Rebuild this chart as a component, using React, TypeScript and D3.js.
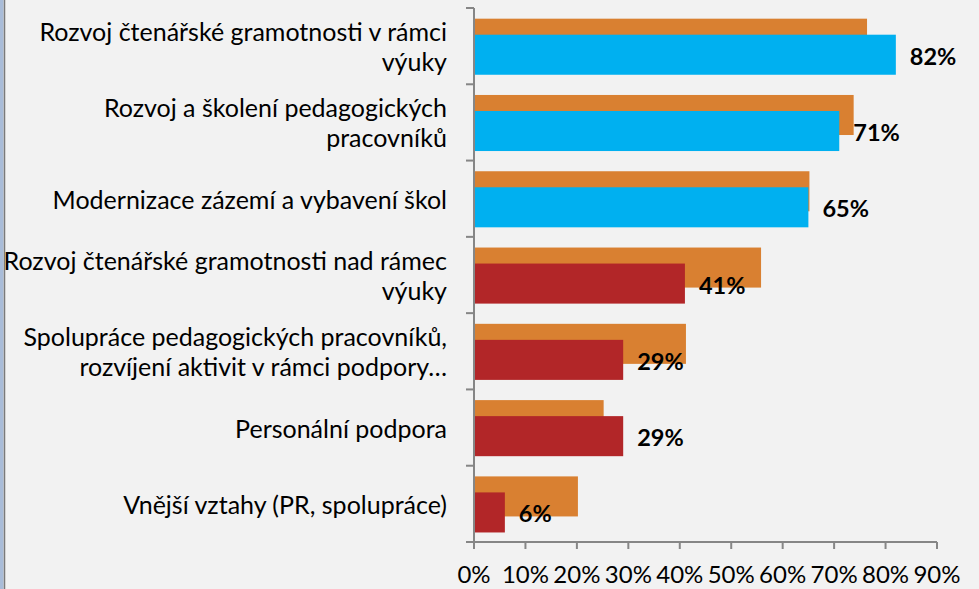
import * as React from 'react';
import * as d3 from 'd3';

// categories, top to bottom (each entry = wrapped lines of the label)
const categories: string[][] = [
  ['Rozvoj čtenářské gramotnosti v rámci', 'výuky'],
  ['Rozvoj a školení pedagogických', 'pracovníků'],
  ['Modernizace zázemí a vybavení škol'],
  ['Rozvoj čtenářské gramotnosti nad rámec', 'výuky'],
  ['Spolupráce pedagogických pracovníků,', 'rozvíjení aktivit v rámci podpory…'],
  ['Personální podpora'],
  ['Vnější vztahy (PR, spolupráce)'],
];

// background (orange) series and main series, in %
const previous: number[] = [76.4, 73.8, 65.2, 55.8, 41.2, 25.2, 20.2];
const current: number[] = [82, 71, 65, 41, 29, 29, 6];
const xTicks: number[] = [0, 10, 20, 30, 40, 50, 60, 70, 80, 90];

const width = 979;
const height = 589;
const marginLeft = 474;
const marginRight = 42;
const marginTop = 8;
const marginBottom = 47;

const ORANGE = '#d98031';
const BLUE = '#00b0f0';
const RED = '#b22628';
const AXIS = '#868686';
const FONT = 'Lato, "Open Sans", sans-serif';

const App: React.FC = () => {
  const x = d3.scaleLinear().domain([0, 90]).range([marginLeft, width - marginRight]);
  const y = d3
    .scaleBand<number>()
    .domain(d3.range(categories.length))
    .range([marginTop, height - marginBottom])
    .padding(0);
  const bw = y.bandwidth();
  const barH = bw * 0.525;
  const axisY = height - marginBottom;

  return (
    <svg width={width} height={height} style={{ position: 'absolute', left: 0, top: 0 }}>
      <rect width={width} height={height} fill="#f2f2f2" />
      <rect x={0} y={0} width={3.5} height={height} fill="#a9bcd8" />
      <line x1={4.5} x2={4.5} y1={0} y2={height} stroke="#7a7a7a" strokeWidth={1.5} />

      {/* bars */}
      {categories.map((_, i) => (
        <g key={i}>
          <rect
            x={x(0)}
            y={y(i)! + bw * 0.14}
            width={x(previous[i]) - x(0)}
            height={barH}
            fill={ORANGE}
          />
          <rect
            x={x(0)}
            y={y(i)! + bw * 0.35}
            width={x(current[i]) - x(0)}
            height={barH}
            fill={i < 3 ? BLUE : RED}
          />
          <text
            x={x(current[i]) + 14}
            y={y(i)! + bw * 0.35 + barH / 2 + 1}
            dominantBaseline="central"
            fontFamily={FONT}
            fontWeight="bold"
            fontSize={23.5}
            fill="#000"
          >
            {current[i]}%
          </text>
        </g>
      ))}

      {/* y axis */}
      <line x1={marginLeft} x2={marginLeft} y1={marginTop} y2={axisY} stroke={AXIS} strokeWidth={2} />
      {d3.range(categories.length).map((i) => (
        <line key={i} x1={marginLeft - 8} x2={marginLeft} y1={y(i)!} y2={y(i)!} stroke={AXIS} strokeWidth={2} />
      ))}
      {categories.map((lines, i) => {
        const cy = y(i)! + bw / 2;
        const lh = 30;
        return (
          <text
            key={i}
            textAnchor="end"
            fontFamily={FONT}
            fontSize={25}
            fill="#000"
          >
            {lines.map((ln, j) => (
              <tspan
                key={j}
                x={447}
                y={cy + (j - (lines.length - 1) / 2) * lh}
                dominantBaseline="central"
              >
                {ln}
              </tspan>
            ))}
          </text>
        );
      })}

      {/* x axis */}
      <line x1={marginLeft - 8} x2={x(90)} y1={axisY} y2={axisY} stroke={AXIS} strokeWidth={2} />
      {xTicks.map((t) => (
        <g key={t}>
          <line x1={x(t)} x2={x(t)} y1={axisY} y2={axisY + 7} stroke={AXIS} strokeWidth={2} />
          <text
            x={x(t)}
            y={axisY + 31}
            textAnchor="middle"
            dominantBaseline="central"
            fontFamily={FONT}
            fontSize={24}
            fill="#000"
          >
            {t}%
          </text>
        </g>
      ))}
    </svg>
  );
};

export default App;
